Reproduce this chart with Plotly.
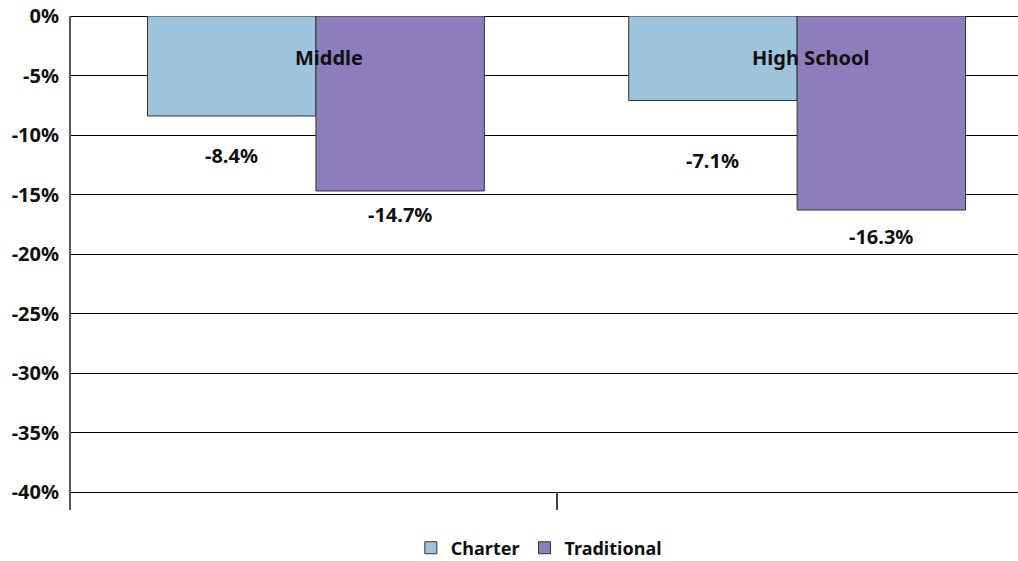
import plotly.graph_objects as go

# Change in enrollment by school level and type
levels = ["Middle", "High School"]
charter = [-8.4, -7.1]
traditional = [-14.7, -16.3]

y_ticks = [0, -5, -10, -15, -20, -25, -30, -35, -40]
y_tick_labels = ["0%", "-5%", "-10%", "-15%", "-20%", "-25%", "-30%", "-35%", "-40%"]

FONT = "Noto Sans"
BLUE = "#9dc4da"
PURPLE = "#8d7dba"

pos = list(range(len(levels)))

fig = go.Figure()
fig.add_trace(go.Bar(
    name="Charter", x=pos, y=charter,
    marker=dict(color=BLUE, line=dict(color="#333333", width=1)),
))
fig.add_trace(go.Bar(
    name="Traditional", x=pos, y=traditional,
    marker=dict(color=PURPLE, line=dict(color="#333333", width=1)),
))

# value labels under each bar
bar_offset = 0.175
label_drop = {"Charter": [40, 60], "Traditional": [24, 26]}
for name, vals, side in (("Charter", charter, -1), ("Traditional", traditional, 1)):
    for i, v in enumerate(vals):
        fig.add_annotation(
            x=pos[i] + side * bar_offset, y=v, text=f"<b>{v:.1f}%</b>",
            showarrow=False, yanchor="middle", yshift=-label_drop[name][i],
            font=dict(family=FONT, size=20, color="#111111"),
        )

# category names near the top of each group
for i, name in enumerate(levels):
    fig.add_annotation(
        x=pos[i], y=0, text=f"<b>{name}</b>", showarrow=False,
        yanchor="middle", yshift=-41, xshift=13,
        font=dict(family=FONT, size=20, color="#111111"),
    )

fig.update_layout(
    width=1018, height=561,
    margin=dict(l=71, r=0, t=16, b=51, autoexpand=False),
    paper_bgcolor="white", plot_bgcolor="white",
    barmode="group", bargap=0.3, bargroupgap=0,
    showlegend=True,
    legend=dict(
        orientation="h", x=0.494, xanchor="center", y=-0.077, yanchor="middle",
        font=dict(family=FONT, size=18, color="#111111", weight="bold"),
        itemwidth=30, traceorder="normal",
    ),
    font=dict(family=FONT),
)

fig.update_xaxes(
    range=[-0.509, 1.459], tickvals=[0.5], ticktext=[""],
    ticks="inside", ticklen=18, tickwidth=1.5, tickcolor="#444444",
    showline=False, showgrid=False, zeroline=False,
)
fig.update_yaxes(
    range=[-41.5, 0], tickvals=y_ticks, ticktext=y_tick_labels,
    showgrid=True, gridcolor="#000000", gridwidth=1,
    zeroline=True, zerolinecolor="#000000", zerolinewidth=1,
    showline=True, linecolor="#595959", linewidth=2,
    ticks="", ticklabelstandoff=6,
    tickfont=dict(family=FONT, size=20, color="#111111", weight="bold"),
)

fig.write_html("out.html")
